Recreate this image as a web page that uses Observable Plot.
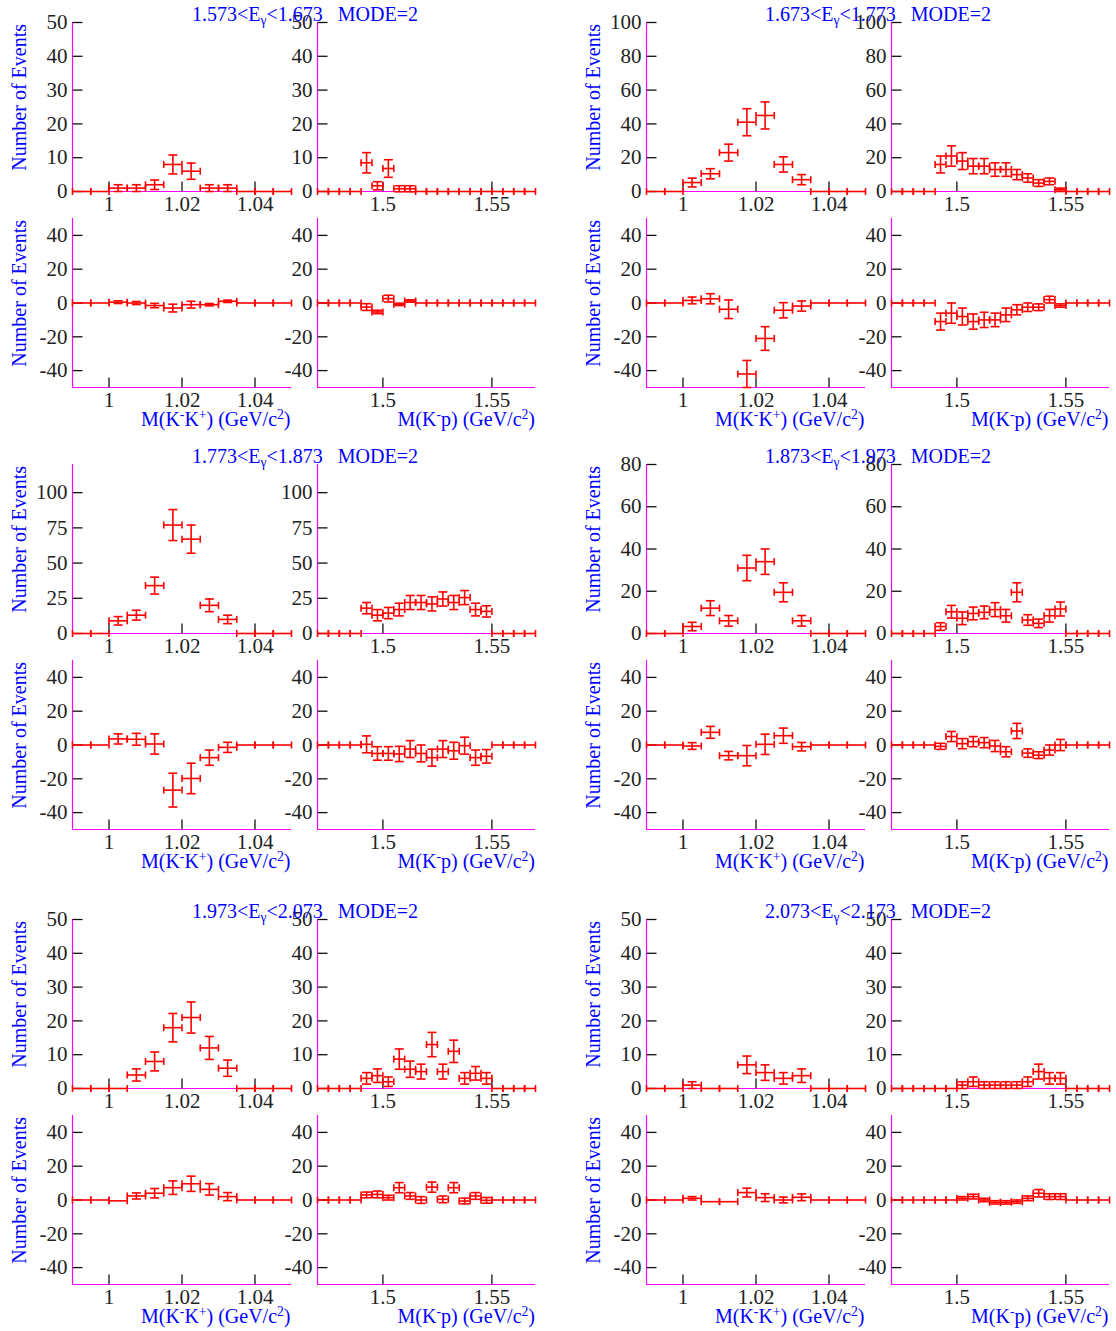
<!DOCTYPE html>
<html><head><meta charset="utf-8">
<script src="https://cdn.jsdelivr.net/npm/d3@7"></script>
<script src="https://cdn.jsdelivr.net/npm/@observablehq/plot@0.6"></script>
<style>
body{margin:0;background:#fff;}
#fig{position:relative;width:1116px;height:1331px;overflow:hidden;background:#fff;font-family:"Liberation Serif","Times New Roman",serif;}
#fig svg, #fig svg text{font-family:"Liberation Serif","Times New Roman",serif;}
.pn{position:absolute;}
.txt{position:absolute;color:#0000ff;font-size:20px;line-height:1;white-space:nowrap;}
.ylab{writing-mode:vertical-rl;transform:translateX(-50%) rotate(180deg);}
.txt sup{font-size:0.68em;vertical-align:0.5em;line-height:0;}
.txt sub{font-size:0.68em;vertical-align:-0.3em;line-height:0;}
</style></head><body><div id="fig"></div>
<script>
// ---------- bins / axes ----------
const kkBins = [0.9925, 0.9975, 1.0025, 1.0075, 1.0125, 1.0175, 1.0225, 1.0275, 1.0325, 1.0375, 1.0425, 1.0475];
const kpBins = [1.4725, 1.4775, 1.4825, 1.4875, 1.4925, 1.4975, 1.5025, 1.5075, 1.5125, 1.5175, 1.5225, 1.5275, 1.5325, 1.5375, 1.5425, 1.5475, 1.5525, 1.5575, 1.5625, 1.5675];
const halfBin = 0.0025;
const kkRange = [0.99, 1.05];
const kpRange = [1.47, 1.57];
const kkTicks = [1, 1.02, 1.04];
const kpTicks = [1.5, 1.55];
const eEdges = ["1.573", "1.673", "1.773", "1.873", "1.973", "2.073", "2.173"];
const topMax = [50, 100, 120, 80, 50, 50];
const topTicks = [[0,10,20,30,40,50],[0,20,40,60,80,100],[0,25,50,75,100],[0,20,40,60,80],[0,10,20,30,40,50],[0,10,20,30,40,50]];
const diffRange = [-50, 50];
const diffTicks = [-40, -20, 0, 20, 40];

// ---------- group 1: 1.573<Eg<1.673 ----------
const kkTop1 = [0,0,1,1,2,8,6,1,1,0,0,0];
const kkTopErr1 = [0,0,1,1,1.4,2.8,2.4,1,1,0,0,0];
const kpTop1 = [0,0,0,0,8.5,1.7,6.8,0.8,0.8,0,0,0,0,0,0,0,0,0,0,0];
const kpTopErr1 = [0,0,0,0,3,1.2,2.6,0.9,0.9,0,0,0,0,0,0,0,0,0,0,0];
const kkBot1 = [0,0,0.5,0,-1.5,-3,-1,-1,1,0,0,0];
const kkBotErr1 = [0,0,0.8,0.9,1.3,2.3,2,0.7,0.7,0,0,0];
const kpBot1 = [0,0,0,0,-2.4,-5.3,2.6,-0.8,1.2,0,0,0,0,0,0,0,0,0,0,0];
const kpBotErr1 = [0,0,0,0,2,1,2,0.7,0.7,0,0,0,0,0,0,0,0,0,0,0];
// ---------- group 2: 1.673<Eg<1.773 ----------
const kkTop2 = [0,0,5.3,10.5,23,41,45,16,7,0,0,0];
const kkTopErr2 = [0,0,2.6,3,5,8,8,4.5,3,0,0,0];
const kpTop2 = [0,0,0,0,16,21,18,15,15,13,13,10,8,5,6,1,0,0,0,0];
const kpTopErr2 = [0,0,0,0,5,6,5,4.5,4.5,4,4,3,2.5,2,2,1,0,0,0,0];
const kkBot2 = [0,0,1.5,2.5,-3.7,-42,-21,-4.3,-1.8,0,0,0];
const kkBotErr2 = [0,0,2,3,5.5,8,7,4.5,3,0,0,0];
const kpBot2 = [0,0,0,0,-11,-6,-8,-11,-10,-10,-7,-4,-2.5,-2.5,2,-1.5,0,0,0,0];
const kpBotErr2 = [0,0,0,0,5,6,5,4.5,4.5,4,4,3,2.5,2,2,1,0,0,0,0];
// ---------- group 3: 1.773<Eg<1.873 ----------
const kkTop3 = [0,0,9,13,34,77,67,20,10,0,0,0];
const kkTopErr3 = [0,0,3,3.5,6,11,10,4.5,3,0,0,0];
const kpTop3 = [0,0,0,0,18,13,14.5,17,22,22,21,24.5,22,25.5,17,15.7,0,0,0,0];
const kpTopErr3 = [0,0,0,0,4,4,4,4.5,5,5,5,5,5,5,4.5,4,0,0,0,0];
const kkBot3 = [0,0,3.6,3.4,0.6,-26.7,-19.8,-7.5,-1.4,0,0,0];
const kkBotErr3 = [0,0,3,3.5,6,10,9,4.5,3,0,0,0];
const kpBot3 = [0,0,0,0,0.4,-5,-5,-5.3,-2.4,-5,-7.5,-2.4,-3.4,-0.4,-7.5,-6.7,0,0,0,0];
const kpBotErr3 = [0,0,0,0,5,4,4,4.5,5,5,5,5,5,5,4.5,4,0,0,0,0];
// ---------- group 4: 1.873<Eg<1.973 ----------
const kkTop4 = [0,0,3.3,12,6,31,34,19.5,6,0,0,0];
const kkTopErr4 = [0,0,2,3.5,2.5,6,6,4.5,2.5,0,0,0];
const kpTop4 = [0,0,0,0,3.3,10.3,7.2,9.5,10,11.3,8.4,19.5,6.4,4.8,8.4,11.6,0,0,0,0];
const kpTopErr4 = [0,0,0,0,1.8,3,3,3,3,3.3,3,4.5,2.5,2,3,3.3,0,0,0,0];
const kkBot4 = [0,0,-0.6,7.5,-6.3,-6.3,0.4,5.5,-1,0,0,0];
const kkBotErr4 = [0,0,2,3.5,2.5,6,6,4.5,2.5,0,0,0];
const kpBot4 = [0,0,0,0,-0.8,5,0.8,2,1.4,-0.6,-4,8.3,-4.8,-6,-3,0,0,0,0,0];
const kpBotErr4 = [0,0,0,0,1.8,3,3,3,3,3.3,3,4.5,2.5,2,3,3.3,0,0,0,0];
// ---------- group 5: 1.973<Eg<2.073 ----------
const kkTop5 = [0,0,0,4,8,18,21,12,6,0,0,0];
const kkTopErr5 = [0,0,0,1.8,2.8,4.2,4.6,3.4,2.4,0,0,0];
const kpTop5 = [0,0,0,0,3,3.8,2,8.7,5.7,5,13,5,11,3,4.5,3,0,0,0,0];
const kpTopErr5 = [0,0,0,0,1.7,2,1.4,3,2.4,2.2,3.6,2.2,3.3,1.7,2,1.7,0,0,0,0];
const kkBot5 = [0,0,-0.5,2.4,4,7.3,9.6,6.3,2,0,0,0];
const kkBotErr5 = [0,0,0,1.8,2.8,4,4.5,3.4,2.4,0,0,0];
const kpBot5 = [0,0,0,0,3,3.3,1.4,7.3,2.4,0,7.6,0.4,7.3,-0.6,2.4,-0.2,0,0,0,0];
const kpBotErr5 = [0,0,0,0,1.7,2,1.4,3,2,2,3,2,3,1.7,2,1.7,0,0,0,0];
// ---------- group 6: 2.073<Eg<2.173 ----------
const kkTop6 = [0,0,1,0,0,7,4.7,3,3.8,0,0,0];
const kkTopErr6 = [0,0,1,0,0,2.6,2.3,1.7,2,0,0,0];
const kpTop6 = [0,0,0,0,0,0,1,2,1,1,1,1,2,5,3,3,0,0,0,0];
const kpTopErr6 = [0,0,0,0,0,0,1,1.4,1,1,1,1,1.4,2.2,1.7,1.7,0,0,0,0];
const kkBot6 = [0,0,1,-1,-1,4.4,1.4,0,1.6,0,0,0];
const kkBotErr6 = [0,0,1,0,0,2.6,2.3,1.7,2,0,0,0];
const kpBot6 = [0,0,0,0,0,0,1,2,0,-1.4,-1.4,-1,1,4,2,2,0,0,0,0];
const kpBotErr6 = [0,0,0,0,0,0,1,1.4,1,1,1,1,1.4,2.2,1.7,1.7,0,0,0,0];

const groups = [
  {kkTop: kkTop1, kkTopErr: kkTopErr1, kpTop: kpTop1, kpTopErr: kpTopErr1, kkBot: kkBot1, kkBotErr: kkBotErr1, kpBot: kpBot1, kpBotErr: kpBotErr1},
  {kkTop: kkTop2, kkTopErr: kkTopErr2, kpTop: kpTop2, kpTopErr: kpTopErr2, kkBot: kkBot2, kkBotErr: kkBotErr2, kpBot: kpBot2, kpBotErr: kpBotErr2},
  {kkTop: kkTop3, kkTopErr: kkTopErr3, kpTop: kpTop3, kpTopErr: kpTopErr3, kkBot: kkBot3, kkBotErr: kkBotErr3, kpBot: kpBot3, kpBotErr: kpBotErr3},
  {kkTop: kkTop4, kkTopErr: kkTopErr4, kpTop: kpTop4, kpTopErr: kpTopErr4, kkBot: kkBot4, kkBotErr: kkBotErr4, kpBot: kpBot4, kpBotErr: kpBotErr4},
  {kkTop: kkTop5, kkTopErr: kkTopErr5, kpTop: kpTop5, kpTopErr: kpTopErr5, kkBot: kkBot5, kkBotErr: kkBotErr5, kpBot: kpBot5, kpBotErr: kpBotErr5},
  {kkTop: kkTop6, kkTopErr: kkTopErr6, kpTop: kpTop6, kpTopErr: kpTopErr6, kkBot: kkBot6, kkBotErr: kkBotErr6, kpBot: kpBot6, kpBotErr: kpBotErr6}
];

// ---------- drawing ----------
const RED = "#ff0000", MAG = "#ff00ff", INK = "#222";
const FONT = "Liberation Serif";
const ML = 50, MR = 12, MT = 12, MB = 30, PH = 169;
const lineSym = (dx, dy) => ({draw(ctx, size) { const r = Math.sqrt(size / Math.PI); ctx.moveTo(-dx * r, -dy * r); ctx.lineTo(dx * r, dy * r); }});
const vLine = lineSym(0, 1), hLine = lineSym(1, 0);
const tickRight = {draw(ctx, size) { const r = Math.sqrt(size / Math.PI); ctx.moveTo(0, 0); ctx.lineTo(2 * r, 0); }};
const tickUp = {draw(ctx, size) { const r = Math.sqrt(size / Math.PI); ctx.moveTo(0, 0); ctx.lineTo(0, -2 * r); }};
const fmt = d => String(+d.toFixed(3));
const fig = document.getElementById("fig");

function panel(kind, vals, errs, yDomain, yTicks, fx, fy) {
  const bins = kind === "kk" ? kkBins : kpBins;
  const W = kind === "kk" ? 219 : 218;
  const xDomain = kind === "kk" ? kkRange : kpRange;
  const xTicks = kind === "kk" ? kkTicks : kpTicks;
  const data = bins.map((c, i) => ({c, lo: c - halfBin, hi: c + halfBin, v: vals[i], e: errs[i]}));
  const withErr = data.filter(d => d.e > 0);
  const ends = data.flatMap(d => [{x: d.lo, v: d.v}, {x: d.hi, v: d.v}]);
  const caps = withErr.flatMap(d => [{c: d.c, y: d.v - d.e}, {c: d.c, y: d.v + d.e}]);
  const svg = Plot.plot({
    width: W + ML + MR, height: PH + MT + MB,
    marginLeft: ML, marginRight: MR, marginTop: MT, marginBottom: MB,
    style: {background: "transparent", overflow: "visible", fontFamily: FONT, fontSize: "21px", color: INK},
    x: {domain: xDomain, label: null},
    y: {domain: yDomain, label: null},
    marks: [
      Plot.ruleX([xDomain[0]], {stroke: MAG, strokeWidth: 1.2}),
      Plot.ruleY([yDomain[0]], {stroke: MAG, strokeWidth: 1.2}),
      Plot.axisY(yTicks, {tickSize: 0, tickPadding: 5, fontSize: 21, fontFamily: FONT, fill: INK, tickFormat: d => String(d), label: null}),
      Plot.axisX(xTicks, {tickSize: 0, tickPadding: 5, fontSize: 21, fontFamily: FONT, fill: INK, tickFormat: fmt, label: null}),
      Plot.dot(yTicks, {x: () => xDomain[0], y: d => d, symbol: tickRight, r: 5, stroke: "#111", strokeWidth: 1.3, fill: "none"}),
      Plot.dot(xTicks, {x: d => d, y: () => yDomain[0], symbol: tickUp, r: 5, stroke: "#111", strokeWidth: 1.3, fill: "none"}),
      Plot.ruleY(data, {y: "v", x1: "lo", x2: "hi", stroke: RED, strokeWidth: 1.6}),
      Plot.ruleX(withErr, {x: "c", y1: d => d.v - d.e, y2: d => d.v + d.e, stroke: RED, strokeWidth: 1.6, clip: true}),
      Plot.dot(ends, {x: "x", y: "v", symbol: vLine, r: 3.5, stroke: RED, strokeWidth: 1.6, fill: "none"}),
      Plot.dot(caps, {x: "c", y: "y", symbol: hLine, r: 4.5, stroke: RED, strokeWidth: 1.6, fill: "none"})
    ]
  });
  svg.classList.add("pn");
  svg.style.position = "absolute";
  svg.style.left = (fx - ML) + "px";
  svg.style.top = (fy - MT) + "px";
  fig.appendChild(svg);
}

function addText(html, cls, css) {
  const d = document.createElement("div");
  d.className = "txt " + cls;
  d.innerHTML = html;
  Object.assign(d.style, css);
  fig.appendChild(d);
}

const rowTops = [22, 464, 919];
groups.forEach((g, k) => {
  const r = Math.floor(k / 2), c = k % 2;
  const fxKK = 71.5 + 574 * c, fxKP = 317 + 573.5 * c;
  const fyTop = rowTops[r], fyBot = fyTop + 195.5;
  panel("kk", g.kkTop, g.kkTopErr, [0, topMax[k]], topTicks[k], fxKK, fyTop);
  panel("kp", g.kpTop, g.kpTopErr, [0, topMax[k]], topTicks[k], fxKP, fyTop);
  panel("kk", g.kkBot, g.kkBotErr, diffRange, diffTicks, fxKK, fyBot);
  panel("kp", g.kpBot, g.kpBotErr, diffRange, diffTicks, fxKP, fyBot);
  // title
  addText(`${eEdges[k]}&lt;E<sub>γ</sub>&lt;${eEdges[k + 1]}&nbsp;&nbsp;&nbsp;MODE=2`, "ttl", {left: (192 + 573 * c) + "px", top: (fyTop - 18.5) + "px"});
  // y titles
  addText("Number of Events", "ylab", {left: (19 + 573.5 * c) + "px", top: (fyTop + 2) + "px"});
  addText("Number of Events", "ylab", {left: (19 + 573.5 * c) + "px", top: (fyBot + 2) + "px"});
  // x titles
  addText("M(K<sup>-</sup>K<sup>+</sup>) (GeV/c<sup>2</sup>)", "xt", {right: (1116 - (fxKK + 219)) + "px", top: (fyBot + PH + 22) + "px"});
  addText("M(K<sup>-</sup>p) (GeV/c<sup>2</sup>)", "xt", {right: (1116 - (fxKP + 218)) + "px", top: (fyBot + PH + 22) + "px"});
});
</script></body></html>
